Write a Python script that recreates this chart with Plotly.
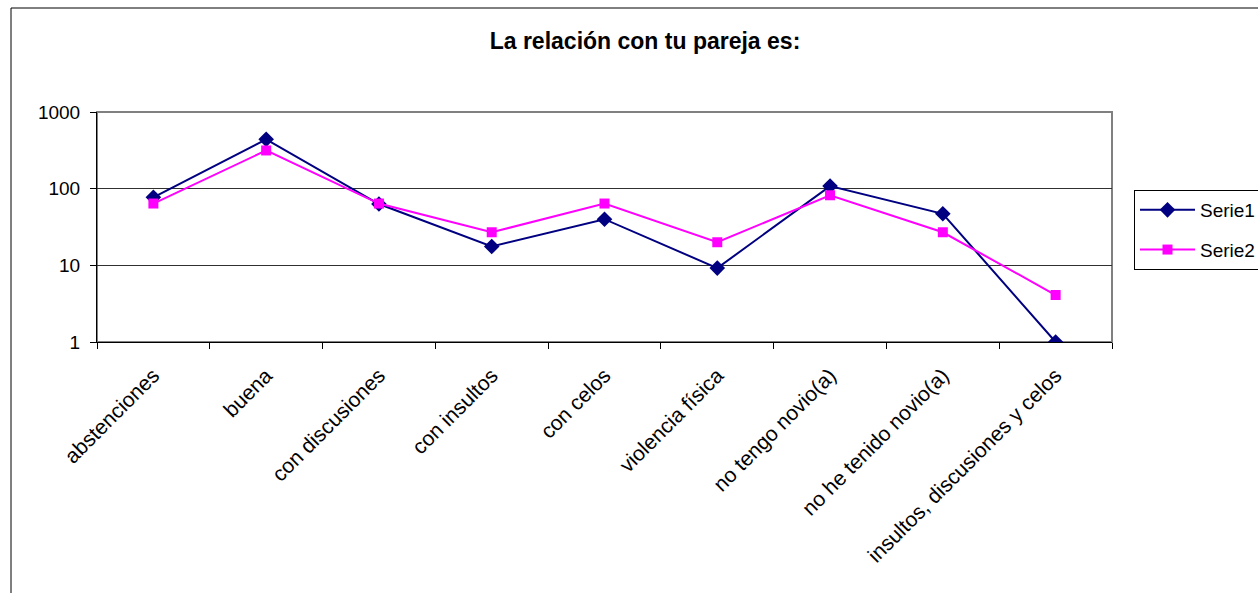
import plotly.graph_objects as go

# Survey answers (category labels) and counts for both series
categories = [
    "abstenciones",
    "buena",
    "con discusiones",
    "con insultos",
    "con celos",
    "violencia física",
    "no tengo novio(a)",
    "no he tenido novio(a)",
    "insultos, discusiones y celos",
]
serie1 = [77, 440, 63, 17.6, 40, 9.2, 108, 47, 1]
serie2 = [64, 315, 64, 27, 64, 20, 82, 27, 4.1]

y_ticks = [1, 10, 100, 1000]
y_tick_text = ["1", "10", "100", "1000"]

FONT = "Liberation Sans, Arial, sans-serif"
W, H = 1258, 593
L, R, T, B = 97, 146, 112, 251
plot_w = W - L - R
plot_h = H - T - B


def px_x(p):
    return (p - L) / plot_w


def px_y(p):
    return (H - B - p) / plot_h


fig = go.Figure()
fig.add_trace(go.Scatter(
    x=categories, y=serie1, name="Serie1", mode="lines+markers",
    legendgroup="s1",
    line=dict(color="#000080", width=2),
    marker=dict(symbol="diamond", size=12, color="#000080"),
))
fig.add_trace(go.Scatter(
    x=categories, y=serie2, name="Serie2", mode="lines+markers",
    legendgroup="s2",
    line=dict(color="#FF00FF", width=2),
    marker=dict(symbol="square", size=10, color="#FF00FF"),
))

fig.update_layout(
    width=W, height=H,
    margin=dict(l=L, r=R, t=T, b=B, autoexpand=False),
    paper_bgcolor="white", plot_bgcolor="white",
    font=dict(family=FONT, color="black", size=18),
    title=dict(
        text="<b>La relación con tu pareja es:</b>",
        x=px_x(645), xref="paper", xanchor="center",
        y=1 - 41 / H, yanchor="middle",
        font=dict(family=FONT, size=23, color="black"),
    ),
    showlegend=True,
    legend=dict(
        x=px_x(1134), y=px_y(190), xanchor="left", yanchor="top",
        bordercolor="black", borderwidth=1, bgcolor="white",
        font=dict(family=FONT, size=19, color="black"),
        traceorder="grouped", tracegroupgap=12,
        itemwidth=55,
    ),
    xaxis=dict(
        type="category", range=[-0.5, len(categories) - 0.5],
        showline=True, linecolor="black", linewidth=1,
        ticks="outside", tickson="boundaries", ticklen=6, tickcolor="black",
        tickangle=-45, showgrid=False, zeroline=False,
        ticklabelstandoff=12,
        tickfont=dict(family=FONT, size=21, color="black"),
    ),
    yaxis=dict(
        type="log", range=[0, 3],
        tickvals=y_ticks, ticktext=y_tick_text,
        showline=True, linecolor="black", linewidth=1,
        ticks="outside", ticklen=6, tickcolor="black",
        ticklabelstandoff=6,
        showgrid=True, gridcolor="#303030", gridwidth=1,
        zeroline=False,
        tickfont=dict(family=FONT, size=19, color="black"),
    ),
    shapes=[
        # plot-area frame (gray top and right edges)
        dict(type="rect", xref="paper", yref="paper", x0=0, x1=1, y0=0, y1=1,
             line=dict(color="#808080", width=2), layer="below"),
        # outer chart frame
        dict(type="rect", xref="paper", yref="paper",
             x0=px_x(11), x1=px_x(W + 20), y0=px_y(H + 20), y1=px_y(8),
             line=dict(color="black", width=1), layer="below"),
    ],
)

fig.write_html("out.html")
